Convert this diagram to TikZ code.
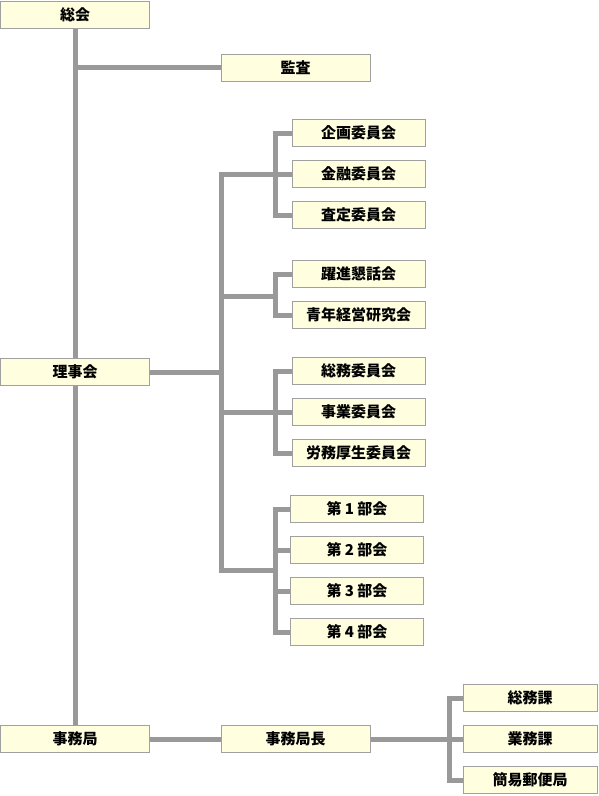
\documentclass[tikz,border=0pt]{standalone}
\usepackage{fontspec}
\setmainfont{Noto Sans CJK JP}
\definecolor{linegray}{HTML}{999999}
\definecolor{boxfill}{HTML}{FFFFE0}
\definecolor{boxline}{HTML}{A0A0A0}
\begin{document}
\begin{tikzpicture}[x=1pt,y=-1pt,
  orgbox/.style={draw=boxline, fill=boxfill, line width=1pt, inner sep=0pt,
    minimum height=27pt, font=\fontsize{15}{17}\selectfont\bfseries},
  wide/.style={orgbox, minimum width=149pt},
  narrow/.style={orgbox, minimum width=133pt},
  conn/.style={draw=linegray, line width=5pt, line join=miter}]
\useasboundingbox (0,0) rectangle (598,796);
% main column
\node[wide] (soukai) at (75,14.5) {総会};
\node[wide] (kansa) at (295.5,67.5) {監査};
\node[wide] (rijikai) at (75,372) {理事会};
\node[wide] (jimukyoku) at (75,739) {事務局};
\node[wide] (chou) at (295.5,739) {事務局長};
% group 1
\node[narrow] (kikaku) at (358.5,133) {企画委員会};
\node[narrow] (kinyu) at (358.5,174) {金融委員会};
\node[narrow] (satei) at (358.5,215) {査定委員会};
% group 2
\node[narrow] (yakushin) at (358.5,274) {躍進懇話会};
\node[narrow] (seinen) at (358.5,315) {青年経営研究会};
% group 3
\node[narrow] (soumui) at (358.5,371) {総務委員会};
\node[narrow] (jigyou) at (358.5,412) {事業委員会};
\node[narrow] (roumu) at (358.5,453) {労務厚生委員会};
% group 4
\node[narrow] (bu1) at (357,509) {第 1 部会};
\node[narrow] (bu2) at (357,550) {第 2 部会};
\node[narrow] (bu3) at (357,591) {第 3 部会};
\node[narrow] (bu4) at (357,632) {第 4 部会};
% office
\node[orgbox, minimum width=134pt] (soumuka) at (530,698) {総務課};
\node[orgbox, minimum width=134pt] (gyoumuka) at (530,739) {業務課};
\node[orgbox, minimum width=134pt] (kani) at (530,780) {簡易郵便局};
% junction coordinates
\coordinate (trunktop) at (221,174);
\coordinate (trunkbot) at (221,570);
\coordinate (j2) at (221,296);
\coordinate (s1) at (275,0);
\coordinate (s4) at (449,0);
% connectors
\draw[conn] (soukai.south) -- (rijikai.north);
\draw[conn] (rijikai.south) -- (jimukyoku.north);
\draw[conn] (kansa.west) -- (kansa.west -| soukai.south);
\draw[conn] (rijikai.east) -- (rijikai.east -| trunktop);
\draw[conn] (kinyu.west) -- (trunktop) -- (trunkbot) -- (trunkbot -| s1);
\draw[conn] (kikaku.west) -- (kikaku.west -| s1) -- (satei.west -| s1) -- (satei.west);
\draw[conn] (j2) -- (j2 -| s1);
\draw[conn] (yakushin.west) -- (yakushin.west -| s1) -- (seinen.west -| s1) -- (seinen.west);
\draw[conn] (jigyou.west -| trunktop) -- (jigyou.west);
\draw[conn] (soumui.west) -- (soumui.west -| s1) -- (roumu.west -| s1) -- (roumu.west);
\draw[conn] (bu1.west) -- (bu1.west -| s1) -- (bu4.west -| s1) -- (bu4.west);
\draw[conn] (bu2.west) -- (bu2.west -| s1);
\draw[conn] (bu3.west) -- (bu3.west -| s1);
\draw[conn] (jimukyoku.east) -- (chou.west);
\draw[conn] (chou.east) -- (gyoumuka.west);
\draw[conn] (soumuka.west) -- (soumuka.west -| s4) -- (kani.west -| s4) -- (kani.west);
\end{tikzpicture}
\end{document}
